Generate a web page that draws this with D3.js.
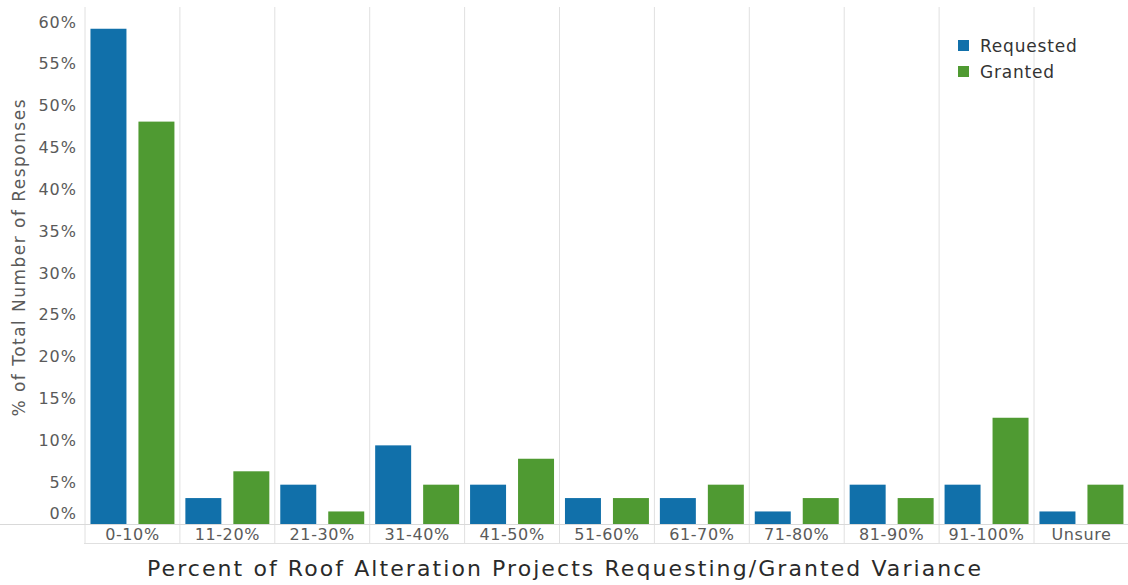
<!DOCTYPE html>
<html><head><meta charset="utf-8">
<script src="https://cdn.jsdelivr.net/npm/d3@7"></script>
<style>body{margin:0;background:#fff}svg{display:block}</style>
</head><body>
<svg id="c" width="1128" height="585"></svg>
<script>
const categories = ["0-10%","11-20%","21-30%","31-40%","41-50%","51-60%","61-70%","71-80%","81-90%","91-100%","Unsure"];
const seriesNames = ["Requested","Granted"];
const requested = [59.2, 3.1, 4.7, 9.4, 4.7, 3.1, 3.1, 1.5, 4.7, 4.7, 1.5];
const granted   = [48.1, 6.3, 1.5, 4.7, 7.8, 3.1, 4.7, 3.1, 3.1, 12.7, 4.7];
const yTicks = [0,5,10,15,20,25,30,35,40,45,50,55,60];
const colors = ["#1170aa","#4f9a32"];

const svg = d3.select("#c");
const font = "'DejaVu Sans', sans-serif";
const x0 = d3.scaleBand().domain(categories).range([85, 85 + 94.9*11]).padding(0);
const x1 = d3.scaleBand().domain(seriesNames).range([0, x0.bandwidth()]).paddingInner(0.25).paddingOuter(0.114);
const y = d3.scaleLinear().domain([0, 61.8]).range([524, 7]);

// vertical gridlines / column separators
const seps = categories.map((c,i)=> x0(c)).concat([x0.range()[1]]);
svg.append("g").selectAll("line").data(seps).join("line")
  .attr("x1",d=>d).attr("x2",d=>d).attr("y1",7).attr("y2",543)
  .attr("stroke","#e0e0e0").attr("stroke-width",1);

// baseline & label row box
svg.append("line").attr("x1",0).attr("x2",1128).attr("y1",524.5).attr("y2",524.5).attr("stroke","#d9d9d9");
svg.append("line").attr("x1",84).attr("x2",1128).attr("y1",543.5).attr("y2",543.5).attr("stroke","#e0e0e0");

// bars
const data = categories.map((c,i)=>({c, vals:[requested[i], granted[i]]}));
const g = svg.append("g").selectAll("g").data(data).join("g")
  .attr("transform",d=>`translate(${x0(d.c)},0)`);
g.selectAll("rect").data(d=>d.vals.map((v,j)=>({s:seriesNames[j], v, j}))).join("rect")
  .attr("x",d=>x1(d.s)).attr("width",x1.bandwidth())
  .attr("y",d=>y(d.v)).attr("height",d=>y(0)-y(d.v))
  .attr("fill",d=>colors[d.j]);

// y tick labels
svg.append("g").selectAll("text").data(yTicks).join("text")
  .attr("x",77).attr("y",d=>Math.min(y(d), 513))
  .attr("text-anchor","end").attr("dominant-baseline","central")
  .attr("font-family",font).attr("font-size",16).attr("letter-spacing",1)
  .attr("fill","#5a5a5a").text(d=>d+"%");

// category labels
svg.append("g").selectAll("text").data(categories).join("text")
  .attr("x",d=>x0(d)+x0.bandwidth()/2).attr("y",534.5)
  .attr("text-anchor","middle").attr("dominant-baseline","central")
  .attr("font-family",font).attr("font-size",16).attr("letter-spacing",0.6)
  .attr("fill","#5a5a5a").text(d=>d);

// axis titles
svg.append("text").attr("transform","translate(19,258) rotate(-90)")
  .attr("text-anchor","middle").attr("dominant-baseline","central")
  .attr("font-family",font).attr("font-size",17).attr("fill","#5a5a5a")
  .attr("textLength",317).attr("lengthAdjust","spacing")
  .text("% of Total Number of Responses");
svg.append("text").attr("x",564).attr("y",568)
  .attr("text-anchor","middle").attr("dominant-baseline","central")
  .attr("font-family",font).attr("font-size",22).attr("fill","#2a2a2a")
  .attr("textLength",834).attr("lengthAdjust","spacing")
  .text("Percent of Roof Alteration Projects Requesting/Granted Variance");

// legend
const lg = svg.append("g").selectAll("g").data(seriesNames).join("g")
  .attr("transform",(d,i)=>`translate(958,${46 + i*26})`);
lg.append("rect").attr("x",0).attr("y",-6).attr("width",11).attr("height",11).attr("fill",(d,i)=>colors[i]);
lg.append("text").attr("x",22).attr("y",0).attr("dominant-baseline","central")
  .attr("font-family",font).attr("font-size",17).attr("letter-spacing",0.8)
  .attr("fill","#333").text(d=>d);
</script>
</body></html>
